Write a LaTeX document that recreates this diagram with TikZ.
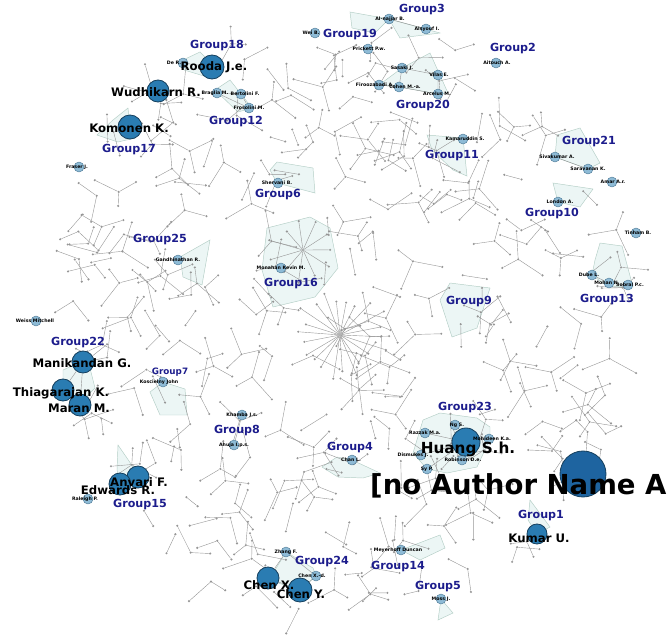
\documentclass[tikz,border=0pt]{standalone}
\usepackage{fontspec}
\setsansfont{DejaVu Sans}
\usetikzlibrary{positioning}
\definecolor{authblue}{RGB}{42,124,178}
\definecolor{authedge}{RGB}{22,64,94}
\definecolor{bigblue}{RGB}{30,100,160}
\definecolor{minorblue}{RGB}{142,187,214}
\definecolor{minoredge}{RGB}{80,124,152}
\definecolor{grpnavy}{RGB}{28,28,140}
\definecolor{zonefill}{RGB}{236,246,245}
\definecolor{zoneline}{RGB}{180,206,198}
\definecolor{linkgrey}{RGB}{150,150,150}
\tikzset{
  dot/.style={circle,fill=linkgrey,inner sep=0pt,minimum size=2pt},
  link/.style={draw=linkgrey,line width=0.35pt},
  major/.style={circle,draw=authedge,line width=0.7pt,fill=authblue,inner sep=0pt,minimum size=#1*0.8536pt},
  major/.default=22,
  minor/.style={circle,draw=minoredge,line width=0.4pt,fill=minorblue,inner sep=0pt,minimum size=8.5pt},
  grp/.style={text=grpnavy,font=\sffamily\bfseries\fontsize{9.5}{10}\selectfont,inner sep=0pt},
  bigname/.style={font=\sffamily\bfseries\fontsize{10}{11}\selectfont,inner sep=0pt},
  tinyname/.style={font=\sffamily\bfseries\fontsize{4}{4}\selectfont,inner sep=0pt},
  zone/.style={fill=zonefill,draw=zoneline,line width=0.4pt}
}

\begin{document}
\begin{tikzpicture}[x=0.03cm,y=-0.03cm]
\useasboundingbox (0,0) rectangle (671,636);
\clip (0,0) rectangle (671,636);

% group zones
\filldraw[zone] (183,60) -- (200,52) -- (214,66) -- (204,76) -- (184,70) -- cycle;
\filldraw[zone] (215,90) -- (230,80) -- (252,108) -- (238,112) -- cycle;
\filldraw[zone] (350,12) -- (389,19) -- (375,33) -- (352,28) -- cycle;
\filldraw[zone] (389,19) -- (440,33) -- (400,38) -- cycle;
\filldraw[zone] (402,68) -- (430,53) -- (448,93) -- (438,94) -- (399,87) -- (379,85) -- cycle;
\filldraw[zone] (427,135) -- (463,138) -- (467,176) -- (453,170) -- (432,150) -- cycle;
\filldraw[zone] (557,135) -- (580,128) -- (600,163) -- (588,169) -- (555,157) -- cycle;
\filldraw[zone] (553,183) -- (593,189) -- (580,207) -- (558,202) -- cycle;
\filldraw[zone] (600,243) -- (622,246) -- (633,287) -- (607,286) -- (592,275) -- (595,260) -- cycle;
\filldraw[zone] (450,283) -- (490,288) -- (477,328) -- (452,337) -- (440,300) -- cycle;
\filldraw[zone] (277,162) -- (313,168) -- (315,193) -- (277,183) -- (270,170) -- cycle;
\filldraw[zone] (180,257) -- (210,240) -- (202,285) -- (183,277) -- cycle;
\filldraw[zone] (267,228) -- (310,217) -- (330,228) -- (338,268) -- (315,297) -- (273,307) -- (262,270) -- cycle;
\filldraw[zone] (128,108) -- (130,128) -- (135,138) -- (118,142) -- (97,135) -- (113,120) -- cycle;
\filldraw[zone] (63,370) -- (83,361) -- (90,368) -- (95,388) -- (80,403) -- (63,389) -- cycle;
\filldraw[zone] (150,392) -- (163,382) -- (185,389) -- (187,415) -- (160,415) -- cycle;
\filldraw[zone] (118,445) -- (140,477) -- (122,490) -- (117,470) -- cycle;
\filldraw[zone] (322,467) -- (337,457) -- (352,460) -- (380,473) -- (363,478) -- (338,477) -- cycle;
\filldraw[zone] (423,420) -- (440,413) -- (477,418) -- (490,427) -- (490,439) -- (477,467) -- (447,473) -- (427,469) -- (413,453) -- cycle;
\filldraw[zone] (530,500) -- (550,527) -- (537,534) -- (528,520) -- cycle;
\filldraw[zone] (286,552) -- (313,568) -- (316,576) -- (300,590) -- (269,580) -- cycle;
\filldraw[zone] (401,550) -- (440,535) -- (445,548) -- (420,560) -- cycle;
\filldraw[zone] (441,599) -- (453,613) -- (438,620) -- cycle;

% small components of the co-author network
\pgfmathsetseed{2718}
\foreach \i in {1,...,285}{
  \pgfmathsetmacro\rr{298*sqrt(rnd)}
  \pgfmathsetmacro\ta{360*rnd}
  \pgfmathsetmacro\aa{360*rnd}
  \pgfmathtruncatemacro\nb{random(1,3)}
  \node[dot] (h\i) at ({338+\rr*cos(\ta)},{318+\rr*sin(\ta)}) {};
  \foreach \j in {1,...,\nb}{
    \pgfmathsetmacro\ll{14+17*rnd}
    \pgfmathsetmacro\bb{\aa+\j*115+25*rnd}
    \node[dot] (h\i-\j) at ([shift={(\bb:\ll)}]h\i) {};
    \draw[link] (h\i) -- (h\i-\j);
  }
}
\node[dot] (hubA) at (340,335) {};
\foreach \k in {1,...,22}{
  \pgfmathsetmacro\ll{32+18*rnd}
  \node[dot] (hubA-\k) at ([shift={(\k*16.36+7*rnd:\ll)}]hubA) {};
  \draw[link] (hubA) -- (hubA-\k);
}
\node[dot] (hubB) at (303,250) {};
\foreach \k in {1,...,11}{
  \pgfmathsetmacro\ll{24+12*rnd}
  \node[dot] (hubB-\k) at ([shift={(\k*32.7:\ll)}]hubB) {};
  \draw[link] (hubB) -- (hubB-\k);
}

% minor authors
\foreach \nm/\cx/\cy/\lx/\txt in {
  weiB/315/33/311/Wei B., deR/183/63/174/De R., braglia/217/93/215/Braglia M.,
  bertol/241/94/245/Bertolini F., frosol/249/108/249/Frosolini M.,
  alnajjar/389/19/390/Al-najjar B., alsyouf/426/29/427/Alsyouf I.,
  prickett/368/49/369/Prickett P.w., aitouch/496/63/497/Aitouch A.,
  sasaki/402/68/402/Sasaki J., vilas/438/75/439/Vilas E.,
  firooz/379/85/375/Firoozabadi A., cohen/399/87/405/Cohen M.-a.,
  arcelus/438/94/437/Arcelus M., kamar/463/139/465/Kamaruddin S.,
  sivak/555/157/557/Sivakumar A., sarav/588/169/588/Saravanan K.,
  amar/612/182/613/Amar A.r., london/558/202/560/London A.,
  tinham/636/233/638/Tinham B., dube/592/275/589/Dube L.,
  mohan/609/283/607/Mohan N., sobral/628/285/630/Sobral P.c.,
  shervani/278/183/277/Shervani B., gandhi/178/260/178/Gandhinathan R.,
  monahan/281/268/281/Monahan Kevin M., weiss/36/321/35/Weiss Mitchell,
  kosciel/163/382/159/Koscielny John, raleigh/88/499/85/Raleigh P.,
  khamba/242/415/242/Khamba J.s., ahuja/234/445/234/Ahuja I.p.s.,
  chan/352/460/351/Chan L., razzak/425/433/425/Razzak M.a.,
  ngS/455/425/457/Ng S., mohid/489/439/492/Mohideen K.a.,
  dismukes/421/455/413/Dismukes J., robinson/462/460/463/Robinson D.e.,
  syP/427/469/427/Sy P., zhang/286/552/286/Zhang F.,
  chenXd/316/576/312/Chen X.-d., meyer/401/550/398/Meyerhoff Duncan,
  moss/441/599/441/Moss J., fraser/79/167/77/Fraser J.}{
  \node[minor] (\nm) at (\cx,\cy) {};
}

% major authors
\node[major=24] (rooda) at (212,67) {};
\node[major] (wudhi) at (158,91) {};
\node[major=24] (komonen) at (130,127) {};
\node[major] (manik) at (83,362) {};
\node[major] (thiaga) at (63,390) {};
\node[major] (maran) at (80,405) {};
\node[major] (anvari) at (138,477) {};
\node[major] (edwards) at (120,484) {};
\node[major=28] (huang) at (466,442) {};
\node[major=46,fill=bigblue] (noauth) at (583,474) {};
\node[major=20] (kumar) at (537,534) {};
\node[major] (chenX) at (268,578) {};
\node[major=24] (chenY) at (300,590) {};

% links inside groups
\draw[link] (deR) -- (rooda);
\draw[link] (braglia) -- (bertol) -- (frosol) -- (braglia);
\draw[link] (alnajjar) -- (alsyouf);
\draw[link] (sasaki) -- (cohen) -- (arcelus) -- (vilas) -- (sasaki);
\draw[link] (firooz) -- (cohen);
\draw[link] (sivak) -- (sarav);
\draw[link] (dube) -- (mohan) -- (sobral);
\draw[link] (manik) -- (thiaga) -- (maran) -- (manik);
\draw[link] (anvari) -- (edwards);
\draw[link] (khamba) -- (ahuja);
\foreach \nm in {razzak,ngS,mohid,dismukes,robinson,syP}
  \draw[link] (huang) -- (\nm);
\draw[link] (zhang) -- (chenX) -- (chenY) -- (chenXd) -- (zhang);

% names
\foreach \nm/\cx/\cy/\lx/\txt in {
  weiB/315/33/311/Wei B., deR/183/63/174/De R., braglia/217/93/215/Braglia M.,
  bertol/241/94/245/Bertolini F., frosol/249/108/249/Frosolini M.,
  alnajjar/389/19/390/Al-najjar B., alsyouf/426/29/427/Alsyouf I.,
  prickett/368/49/369/Prickett P.w., aitouch/496/63/497/Aitouch A.,
  sasaki/402/68/402/Sasaki J., vilas/438/75/439/Vilas E.,
  firooz/379/85/375/Firoozabadi A., cohen/399/87/405/Cohen M.-a.,
  arcelus/438/94/437/Arcelus M., kamar/463/139/465/Kamaruddin S.,
  sivak/555/157/557/Sivakumar A., sarav/588/169/588/Saravanan K.,
  amar/612/182/613/Amar A.r., london/558/202/560/London A.,
  tinham/636/233/638/Tinham B., dube/592/275/589/Dube L.,
  mohan/609/283/607/Mohan N., sobral/628/285/630/Sobral P.c.,
  shervani/278/183/277/Shervani B., gandhi/178/260/178/Gandhinathan R.,
  monahan/281/268/281/Monahan Kevin M., weiss/36/321/35/Weiss Mitchell,
  kosciel/163/382/159/Koscielny John, raleigh/88/499/85/Raleigh P.,
  khamba/242/415/242/Khamba J.s., ahuja/234/445/234/Ahuja I.p.s.,
  chan/352/460/351/Chan L., razzak/425/433/425/Razzak M.a.,
  ngS/455/425/457/Ng S., mohid/489/439/492/Mohideen K.a.,
  dismukes/421/455/413/Dismukes J., robinson/462/460/463/Robinson D.e.,
  syP/427/469/427/Sy P., zhang/286/552/286/Zhang F.,
  chenXd/316/576/312/Chen X.-d., meyer/401/550/398/Meyerhoff Duncan,
  moss/441/599/441/Moss J., fraser/79/167/77/Fraser J.}{
  \node[tinyname] (\nm-name) at (\lx,\cy) {\txt};
}
\node[bigname] (rooda-name) at (214,67) {Rooda J.e.};
\node[bigname] (wudhi-name) at (156,92) {Wudhikarn R.};
\node[bigname] (komonen-name) at (129,128) {Komonen K.};
\node[bigname] (manik-name) at (82,363) {Manikandan G.};
\node[bigname] (thiaga-name) at (61,393) {Thiagarajan K.};
\node[bigname] (maran-name) at (79,408) {Maran M.};
\node[bigname] (anvari-name) at (139,482) {Anvari F.};
\node[bigname] (edwards-name) at (118,490) {Edwards R.};
\node[bigname,font=\sffamily\bfseries\fontsize{13}{14}\selectfont] (huang-name) at (468,449) {Huang S.h.};
\node[bigname,font=\sffamily\bfseries\fontsize{23.5}{25}\selectfont,anchor=west] (noauth-name) at (370,486) {[no Author Name A};
\node[bigname] (kumar-name) at (539,538) {Kumar U.};
\node[bigname] (chenX-name) at (269,585) {Chen X.};
\node[bigname] (chenY-name) at (301,594) {Chen Y.};

% group labels
\foreach \g/\gx/\gy in {3/422/10, 19/350/35, 2/513/49, 18/217/46, 12/236/122,
  20/423/106, 11/452/156, 21/589/142, 17/129/150, 6/278/195, 10/552/214,
  25/160/240, 16/291/284, 13/607/300, 9/469/302, 22/78/343, 23/465/408,
  8/237/431, 4/350/448, 15/140/505, 1/541/516, 24/322/562, 14/398/567, 5/438/587}
  \node[grp] (grp\g) at (\gx,\gy) {Group\g};
\node[grp,font=\sffamily\bfseries\fontsize{7.5}{8}\selectfont] (grp7) at (170,372) {Group7};
\end{tikzpicture}
\end{document}
